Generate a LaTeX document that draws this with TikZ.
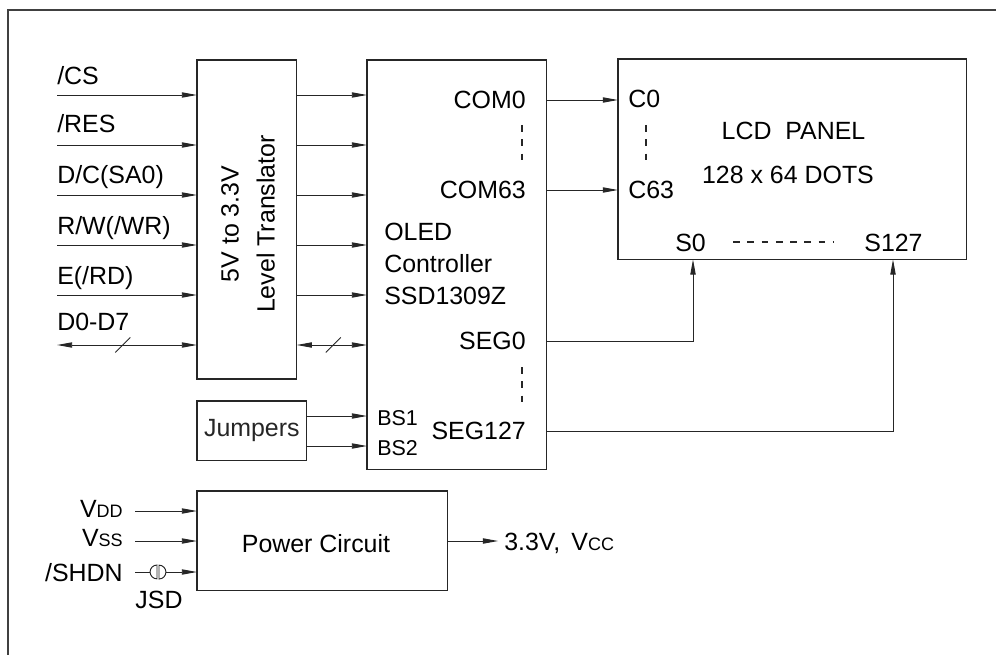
\documentclass[tikz,border=0pt]{standalone}
\usepackage{fontspec}
\setmainfont{Liberation Sans}
\usetikzlibrary{arrows.meta,positioning,calc}
\tikzset{
    line color/.style={black!85},
    box/.style={draw, line color, line width=.8pt, anchor=north west, inner sep=0pt, outer sep=0pt},
    arr/.style={-{Triangle[length=11pt,width=3.8pt]}, line color, line width=.7pt},
    darr/.style={{Triangle[length=11pt,width=3.8pt]}-{Triangle[length=11pt,width=3.8pt]}, line color, line width=.7pt},
    wire/.style={line color, line width=.7pt},
    dash line/.style={line color, line width=1pt, dash pattern=on 5pt off 5.3pt},
    pin/.style={font=\fontsize{15.5}{18}\selectfont},
}
\tikzstyle{every node}=[font=\fontsize{18}{22}\selectfont, inner sep=0pt]
\newcommand{\lowcap}[1]{{\fontsize{13}{15}\selectfont #1}}

\begin{document}
\begin{tikzpicture}[x=0.01in, y=-0.01in]
    \useasboundingbox (0,0) rectangle (996,655);
    \draw[black!75, line width=1pt] (8,655) -- (8,10) -- (996,10);

    % blocks
    \node[box, minimum width=72pt, minimum height=230.4pt] (trans) at (197,60) {};
    \node[box, minimum width=129.6pt, minimum height=295.9pt] (ctrl) at (367,60) {};
    \node[box, minimum width=252pt, minimum height=144.7pt] (panel) at (618,59) {};
    \node[box, minimum width=79.2pt, minimum height=43.2pt] (jump) at (197,401) {Jumpers};
    \node[box, minimum width=180.7pt, minimum height=72pt] (power) at (197,491) {};

    \node[rotate=90, align=center, font=\fontsize{18}{26}\selectfont] (transtxt) at (248,224) {5V to 3.3V\\Level Translator};
    \node[anchor=base west] (oled) at (384,240) {OLED};
    \node[anchor=base west] (ctrltxt) at (384,272) {Controller};
    \node[anchor=base west] (chip) at (384,304) {SSD1309Z};
    \node (powertxt) at (316,544) {Power Circuit};

    % MCU side inputs
    \coordinate (cs) at (57,95);
    \coordinate (res) at (57,145);
    \coordinate (dc) at (57,195);
    \coordinate (rw) at (57,245);
    \coordinate (en) at (57,295);
    \coordinate (d0) at (57,345);
    \node[anchor=base west] (cslbl) at (57,85) {/CS};
    \node[anchor=base west] (reslbl) at (57,133) {/RES};
    \node[anchor=base west] (dclbl) at (57,183) {D/C(SA0)};
    \node[anchor=base west] (rwlbl) at (57,234) {R/W(/WR)};
    \node[anchor=base west] (enlbl) at (57,284) {E(/RD)};
    \node[anchor=base west] (d0lbl) at (57,330) {D0-D7};

    \draw[arr] (cs) -- (cs -| trans.west);
    \draw[arr] (res) -- (res -| trans.west);
    \draw[arr] (dc) -- (dc -| trans.west);
    \draw[arr] (rw) -- (rw -| trans.west);
    \draw[arr] (en) -- (en -| trans.west);
    \draw[darr] (d0) -- (d0 -| trans.west);

    \draw[arr] (cs -| trans.east) -- (cs -| ctrl.west);
    \draw[arr] (res -| trans.east) -- (res -| ctrl.west);
    \draw[arr] (dc -| trans.east) -- (dc -| ctrl.west);
    \draw[arr] (rw -| trans.east) -- (rw -| ctrl.west);
    \draw[arr] (en -| trans.east) -- (en -| ctrl.west);
    \draw[darr] (d0 -| trans.east) -- (d0 -| ctrl.west);

    % bus marks
    \coordinate (bus1) at ($(d0)!.47!(d0 -| trans.west)$);
    \coordinate (bus2) at ($(d0 -| trans.east)!.52!(d0 -| ctrl.west)$);
    \draw[wire] (bus1) +(-7.5,7.5) -- +(7.5,-7.5);
    \draw[wire] (bus2) +(-7.5,7.5) -- +(7.5,-7.5);

    % jumpers
    \path (jump.north east) ++(0,15) coordinate (bs1) ++(0,30) coordinate (bs2);
    \draw[arr] (bs1) -- (bs1 -| ctrl.west);
    \draw[arr] (bs2) -- (bs2 -| ctrl.west);
    \node[pin, anchor=base west] (bs1lbl) at (377,425) {BS1};
    \node[pin, anchor=base west] (bs2lbl) at (377,455) {BS2};

    % common and segment drivers
    \path (ctrl.north east) ++(0,40) coordinate (com0) ++(0,90) coordinate (com63);
    \path (ctrl.north east) ++(0,281) coordinate (seg0) ++(0,90) coordinate (seg127);
    \path (panel.south west) ++(75,0) coordinate (s0) ++(200,0) coordinate (s127);
    \node[anchor=base east] (com0lbl) at (526,108.5) {COM0};
    \node[anchor=base east] (com63lbl) at (526,198.5) {COM63};
    \node[anchor=base east] (seg0lbl) at (526,349.5) {SEG0};
    \node[anchor=base east] (seg127lbl) at (526,439.5) {SEG127};
    \draw[dash line] (522,125) -- (522,162);
    \draw[dash line] (522,367) -- (522,404);

    \draw[arr] (com0) -- (com0 -| panel.west);
    \draw[arr] (com63) -- (com63 -| panel.west);
    \draw[arr] (seg0) -| (s0);
    \draw[arr] (seg127) -| (s127);

    % panel
    \node[anchor=base west] (c0lbl) at (628,108) {C0};
    \node[anchor=base west] (c63lbl) at (628,198) {C63};
    \draw[dash line] (646,125) -- (646,162);
    \node[anchor=base] (paneltxt) at (793.5,139) {LCD\ \ PANEL};
    \node[anchor=base] (dots) at (788,183) {128 x 64 DOTS};
    \node[anchor=base] (s0lbl) at (690.5,251) {S0};
    \node[anchor=base] (s127lbl) at (893.5,251) {S127};
    \draw[dash line] (733,242) -- (833,242);

    % supply
    \path (power.north west) ++(-62,20) coordinate (vdd) ++(0,30) coordinate (vss) ++(0,31) coordinate (shdn);
    \node[anchor=base east] (vddlbl) at (123,517) {V\lowcap{DD}};
    \node[anchor=base east] (vsslbl) at (123,546) {V\lowcap{SS}};
    \node[anchor=base east] (shdnlbl) at (123,581) {/SHDN};
    \draw[arr] (vdd) -- (vdd -| power.west);
    \draw[arr] (vss) -- (vss -| power.west);

    \coordinate (jsd) at ($(shdn)+(23,0)$);
    \draw[wire] (shdn) -- ($(jsd)+(-8,0)$);
    \draw[wire] ($(jsd)+(-1,-7)$) arc[start angle=90, end angle=270, radius=5pt] -- cycle;
    \draw[wire] ($(jsd)+(1,7)$) arc[start angle=-90, end angle=90, radius=5pt] -- cycle;
    \draw[arr] ($(jsd)+(8,0)$) -- (jsd -| power.west);
    \node[anchor=base] (jsdlbl) at (159,608) {JSD};

    \path (power.north east) ++(0,50) coordinate (pout);
    \draw[arr] (pout) -- ++(51,0) coordinate (vcc);
    \node[anchor=base west] (vcclbl) at (504,550) {3.3V,\hspace{.45em}V\lowcap{CC}};
\end{tikzpicture}
\end{document}
